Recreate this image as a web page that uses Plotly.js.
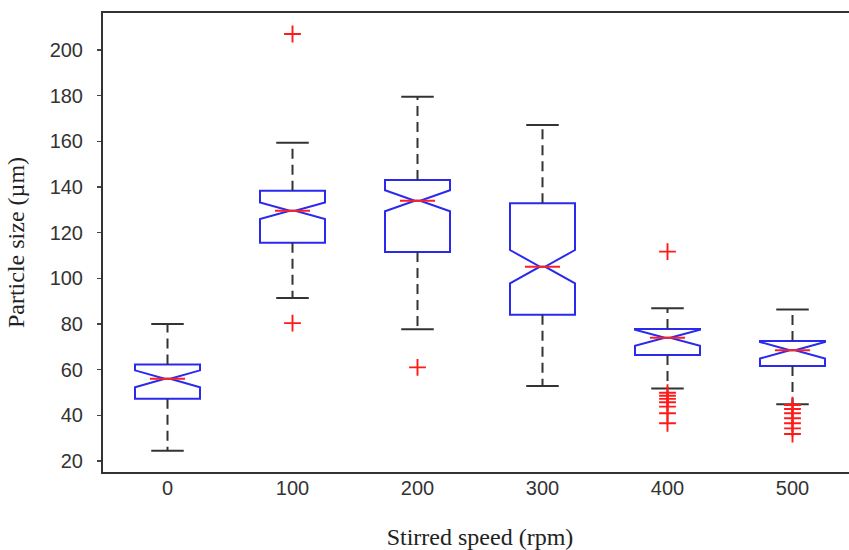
<!DOCTYPE html>
<html>
<head>
<meta charset="utf-8">
<script src="https://cdn.plot.ly/plotly-3.0.1.min.js"></script>
<style>
  html, body { margin: 0; padding: 0; overflow: hidden; background: #fff; }
  #chart { width: 862px; height: 550px; }
</style>
</head>
<body>
<div id="chart"></div>
<script>
// ---- data ----
const positions  = [0, 1, 2, 3, 4, 5];
const tickLabels = ['0', '100', '200', '300', '400', '500'];
const q1Vals      = [47.3, 115.6, 111.5, 84.0, 66.4, 61.6];
const medianVals  = [56.0, 129.6, 134.0, 105.1, 74.0, 68.5];
const q3Vals      = [62.3, 138.4, 143.1, 132.9, 77.8, 72.6];
const lowerWhisk  = [24.5, 91.4, 77.7, 52.8, 51.8, 44.8];
const upperWhisk  = [80.0, 159.4, 179.5, 167.2, 86.9, 86.4];
const notchSpans  = [3.7, 3.6, 4.6, 7.3, 3.5, 3.6];
const outlierX    = [1, 1, 2, 4, 4, 4, 4, 4, 4, 4, 4, 5, 5, 5, 5, 5, 5, 5];
const outlierY    = [207.0, 80.4, 61.0, 111.7, 49.9, 48.6, 47.2, 45.7, 43.8, 40.9, 36.5,
                     44.5, 42.8, 40.9, 38.7, 36.5, 34.3, 31.8];
const yTicks      = [20, 40, 60, 80, 100, 120, 140, 160, 180, 200];

// ---- styling constants ----
const boxWidth = 0.52;
const notchW = 0.46;
const capHalf = 0.13;
const medHalf = (boxWidth / 2) * (1 - notchW);

// whiskers (dashed) and caps (solid) built from data
const wx = [], wy = [], cx = [], cy = [], mx = [], my = [];
positions.forEach((p, i) => {
  wx.push(p, p, null, p, p, null);
  wy.push(q3Vals[i], upperWhisk[i], null, q1Vals[i], lowerWhisk[i], null);
  cx.push(p - capHalf, p + capHalf, null, p - capHalf, p + capHalf, null);
  cy.push(upperWhisk[i], upperWhisk[i], null, lowerWhisk[i], lowerWhisk[i], null);
  mx.push(p - medHalf, p + medHalf, null);
  my.push(medianVals[i], medianVals[i], null);
});

const traces = [
  {
    type: 'scatter', mode: 'lines', x: wx, y: wy, hoverinfo: 'skip', showlegend: false,
    line: { color: '#333333', width: 2, dash: '10px,6px' }
  },
  {
    type: 'scatter', mode: 'lines', x: cx, y: cy, hoverinfo: 'skip', showlegend: false,
    line: { color: '#333333', width: 2 }
  },
  {
    type: 'box', x: positions, q1: q1Vals, median: medianVals, q3: q3Vals,
    lowerfence: q1Vals, upperfence: q3Vals, notchspan: notchSpans,
    notched: true, notchwidth: notchW, width: boxWidth, whiskerwidth: 0,
    boxpoints: false, showlegend: false,
    line: { color: '#2a2aee', width: 2 }, fillcolor: 'rgba(255,255,255,0)'
  },
  {
    type: 'scatter', mode: 'lines', x: mx, y: my, hoverinfo: 'skip', showlegend: false,
    line: { color: '#ff2020', width: 2 }
  },
  {
    type: 'scatter', mode: 'markers', x: outlierX, y: outlierY, showlegend: false,
    marker: { symbol: 'cross-thin', size: 12, color: '#ff1a1a', line: { color: '#ff1a1a', width: 1.9 } }
  }
];

const layout = {
  width: 862, height: 550,
  margin: { l: 103, r: 5, t: 13, b: 78 },
  paper_bgcolor: '#ffffff', plot_bgcolor: '#ffffff',
  showlegend: false,
  xaxis: {
    type: 'linear', range: [-0.516, 5.516],
    tickvals: positions, ticktext: tickLabels,
    ticks: '', showgrid: false, zeroline: false,
    showline: true, mirror: true, linecolor: '#333333', linewidth: 2,
    tickfont: { family: 'Liberation Sans, Arial, sans-serif', size: 20, color: '#333333' },
    ticklabelstandoff: -3,
    title: { text: 'Stirred speed (rpm)', standoff: 30,
             font: { family: 'Liberation Serif, Times New Roman, serif', size: 24, color: '#222222' } }
  },
  yaxis: {
    range: [15.18, 216.2],
    tickvals: yTicks,
    ticks: 'outside', ticklen: 4, tickcolor: '#444444', tickwidth: 1.2,
    showgrid: false, zeroline: false,
    showline: true, mirror: true, linecolor: '#333333', linewidth: 2,
    tickfont: { family: 'Liberation Sans, Arial, sans-serif', size: 20, color: '#333333' },
    ticklabelstandoff: 10,
    title: { text: 'Particle size (\u00b5m)', standoff: 18,
             font: { family: 'Liberation Serif, Times New Roman, serif', size: 24, color: '#222222' } }
  }
};

Plotly.newPlot('chart', traces, layout, { displayModeBar: false, staticPlot: true });
</script>
</body>
</html>
